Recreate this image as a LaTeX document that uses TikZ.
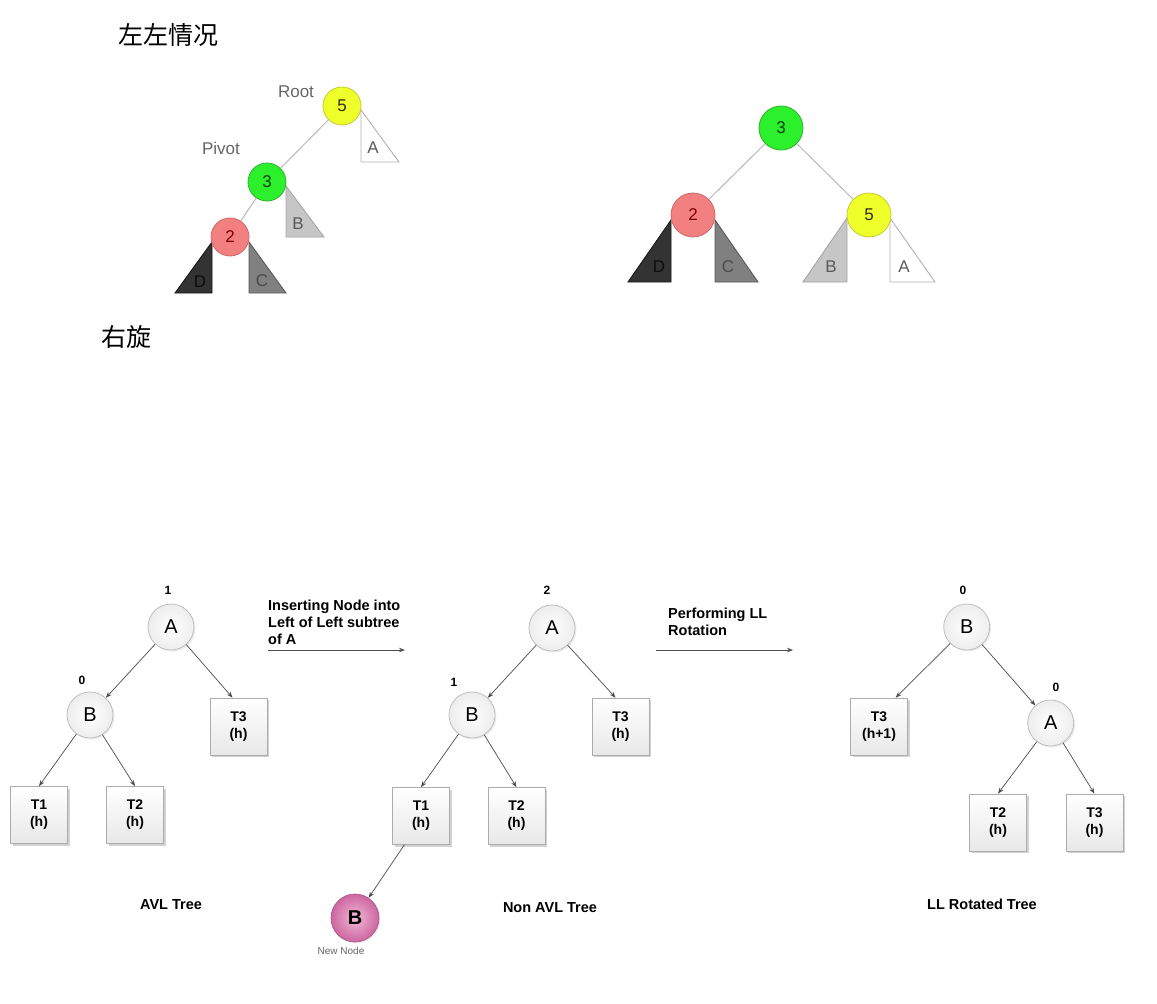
\documentclass[tikz,border=0pt]{standalone}
\usepackage{fontspec}
\setmainfont{Liberation Sans}
\newfontfamily\cjk{Noto Sans CJK SC}
\usetikzlibrary{shadows,arrows.meta,calc}
\definecolor{yel}{HTML}{EEFF2A}
\definecolor{yelD}{HTML}{C4CC30}
\definecolor{grn}{HTML}{2CF02C}
\definecolor{grnD}{HTML}{30B030}
\definecolor{pnk}{HTML}{F28080}
\definecolor{pnkD}{HTML}{D06868}
\definecolor{newin}{HTML}{F2B8D6}
\definecolor{newout}{HTML}{CC66A0}
\definecolor{newD}{HTML}{B05A8A}
\begin{document}
\begin{tikzpicture}[x=1pt,y=-1pt,
  cjklabel/.style={font=\cjk\fontsize{25}{30}\selectfont, inner sep=0},
  graylabel/.style={font=\fontsize{17}{17}\selectfont, text=black!60, inner sep=0},
  treeedge/.style={draw=gray!55, line width=1pt},
  colnode/.style={circle, inner sep=0, line width=0.8pt, font=\fontsize{17}{17}\selectfont},
  tri/.style={line width=0.9pt},
  trilabel/.style={font=\fontsize{17}{17}\selectfont, inner sep=0},
  avlnode/.style={circle, minimum size=46pt, inner sep=0, draw=gray!55, line width=0.7pt,
     inner color=white, outer color=gray!14, font=\fontsize{20}{22}\selectfont,
     drop shadow={opacity=0.15, shadow xshift=1.5pt, shadow yshift=-1.5pt}},
  subtree/.style={rectangle, minimum width=57pt, minimum height=57pt, inner sep=0,
     draw=gray!65, line width=0.7pt, top color=white, bottom color=gray!18, align=center,
     font=\bfseries\fontsize{14}{17}\selectfont,
     drop shadow={opacity=0.35, shadow xshift=2pt, shadow yshift=-2pt}},
  bal/.style={font=\bfseries\fontsize{12}{12}\selectfont, inner sep=0},
  conn/.style={draw=black!70, line width=0.7pt, -{Stealth[length=6pt,width=4.5pt]}},
  caption/.style={font=\bfseries\fontsize{14.5}{17}\selectfont, inner sep=0, align=left},
  newnode/.style={circle, minimum size=48pt, inner sep=0, draw=newD, line width=0.7pt,
     inner color=newin, outer color=newout, font=\bfseries\fontsize{20}{22}\selectfont,
     drop shadow={opacity=0.15, shadow xshift=1.5pt, shadow yshift=-1.5pt}}
]
\useasboundingbox (0,0) rectangle (1157,1004);
\fill[white] (0,0) rectangle (1157,1004);

% ---------- titles ----------
\node[cjklabel] (t1) at (168,35) {左左情况};
\node[cjklabel] (t2) at (126,337) {右旋};

% ---------- top-left tree ----------
\draw[tri, draw=gray!60, fill=white] (361,110) -- (361,162) -- (399,162) -- cycle;
\node[trilabel, text=black!65] (lA) at (373,148) {A};
\draw[tri, draw=gray!70, fill=gray!45] (286,186) -- (286,237) -- (324,237) -- cycle;
\node[trilabel, text=black!65] (lB) at (298,224) {B};
\draw[tri, draw=black!90, fill=black!80] (212,242) -- (212,293) -- (175,293) -- cycle;
\node[trilabel, text=black!95] (lD) at (200,282) {D};
\draw[tri, draw=black!65, fill=black!50] (249,242) -- (249,293) -- (286,293) -- cycle;
\node[trilabel, text=black!70] (lC) at (262,281) {C};

\node[colnode, minimum size=38pt, fill=yel, draw=yelD, text=black!70!yel!60!black] (n5) at (342,106) {5};
\node[colnode, minimum size=38pt, fill=grn, draw=grnD, text=green!25!black] (n3) at (267,182) {3};
\node[colnode, minimum size=38pt, fill=pnk, draw=pnkD, text=red!50!black] (n2) at (230,237) {2};
\draw[treeedge] (n5) -- (n3);
\draw[treeedge] (n3) -- (n2);
\node[graylabel] (root) at (296,92) {Root};
\node[graylabel] (pivot) at (221,148) {Pivot};

% ---------- top-right tree ----------
\draw[tri, draw=black!90, fill=black!80] (671,220) -- (671,282) -- (628,282) -- cycle;
\node[trilabel, text=black!95] (rD) at (659,267) {D};
\draw[tri, draw=black!65, fill=black!50] (715,220) -- (715,282) -- (758,282) -- cycle;
\node[trilabel, text=black!70] (rC) at (728,267) {C};
\draw[tri, draw=gray!70, fill=gray!45] (847,218) -- (847,282) -- (803,282) -- cycle;
\node[trilabel, text=black!65] (rB) at (831,267) {B};
\draw[tri, draw=gray!60, fill=white] (890,218) -- (890,282) -- (935,282) -- cycle;
\node[trilabel, text=black!65] (rA) at (904,267) {A};

\node[colnode, minimum size=44pt, fill=grn, draw=grnD, text=green!25!black] (m3) at (781,128) {3};
\node[colnode, minimum size=44pt, fill=pnk, draw=pnkD, text=red!50!black] (m2) at (693,215) {2};
\node[colnode, minimum size=44pt, fill=yel, draw=yelD, text=black!70!yel!60!black] (m5) at (869,215) {5};
\draw[treeedge] (m3) -- (m2);
\draw[treeedge] (m3) -- (m5);

% ---------- bottom: AVL tree ----------
\node[avlnode] (a1) at (171,627) {A};
\node[avlnode] (b1) at (90,715) {B};
\node[subtree] (t31) at (238.5,726.5) {T3\\(h)};
\node[subtree] (t11) at (39,815) {T1\\(h)};
\node[subtree] (t21) at (135,815) {T2\\(h)};
\node[bal] (ba1) at (168,590) {1};
\node[bal] (bb1) at (82,680) {0};
\draw[conn] (a1) -- (b1);
\draw[conn] (a1) -- ($(t31.north)+(-6,0)$);
\draw[conn] (b1) -- (t11.north);
\draw[conn] (b1) -- (t21.north);
\node[caption] (c1) at (171,905) {AVL Tree};

% arrow 1
\node[caption, anchor=north west] (ins) at (268,600) {Inserting Node into\\Left of Left subtree\\of A};
\coordinate (i1) at (268,650);
\coordinate (i2) at (405,650);
\draw[conn] (i1) -- (i2);

% ---------- bottom: Non AVL tree ----------
\node[avlnode] (a2) at (552,628) {A};
\node[avlnode] (b2) at (472,715) {B};
\node[subtree] (t32) at (620.5,726.5) {T3\\(h)};
\node[subtree] (t12) at (421,816) {T1\\(h)};
\node[subtree] (t22) at (516.5,816) {T2\\(h)};
\node[newnode] (nb) at (355,918) {B};
\node[font=\fontsize{10}{10}\selectfont, text=black!60, inner sep=0] (nnl) at (341,951) {New Node};
\node[bal] (ba2) at (547,590) {2};
\node[bal] (bb2) at (454,682) {1};
\draw[conn] (a2) -- (b2);
\draw[conn] (a2) -- ($(t32.north)+(-5,0)$);
\draw[conn] (b2) -- (t12.north);
\draw[conn] (b2) -- (t22.north);
\draw[conn] (t12.240) -- (nb);
\node[caption] (c2) at (550,908) {Non AVL Tree};

% arrow 2
\node[caption, anchor=north west] (perf) at (668,608) {Performing LL\\Rotation};
\coordinate (p1) at (656,650);
\coordinate (p2) at (793,650);
\draw[conn] (p1) -- (p2);

% ---------- bottom: LL rotated tree ----------
\node[avlnode] (b3) at (966.7,627) {B};
\node[avlnode] (a3) at (1050.7,723) {A};
\node[subtree] (t33a) at (879,726.5) {T3\\(h+1)};
\node[subtree] (t23) at (998,822.5) {T2\\(h)};
\node[subtree] (t33) at (1094.5,822.5) {T3\\(h)};
\node[bal] (bb3) at (963,590) {0};
\node[bal] (ba3) at (1056,687) {0};
\draw[conn] (b3) -- (t33a.60);
\draw[conn] (b3) -- (a3);
\draw[conn] (a3) -- (t23.north);
\draw[conn] (a3) -- (t33.north);
\node[caption] (c3) at (982,904) {LL Rotated Tree};
\end{tikzpicture}
\end{document}
